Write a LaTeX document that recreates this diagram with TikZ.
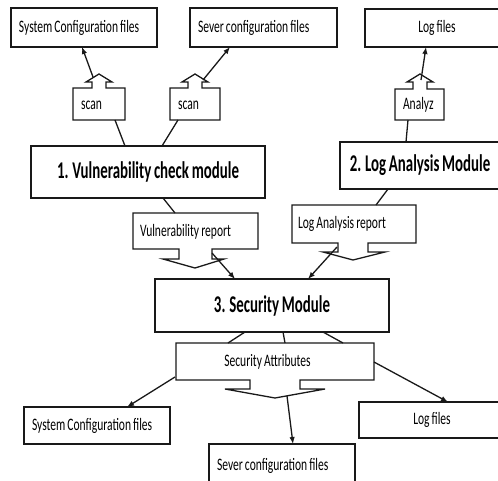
\documentclass[tikz,border=0pt]{standalone}
\usepackage{fontspec}
\setmainfont{Carlito}[FakeStretch=0.66, WordSpace=0.8]
\newfontfamily\bigfont{Carlito}[FakeStretch=0.62, WordSpace=0.8]
\usetikzlibrary{arrows.meta}
\begin{document}
\begin{tikzpicture}[x=1pt,y=-1pt,
  line width=1.3pt, draw={black!90},
  every node/.style={inner sep=0pt, outer sep=0pt},
  txt/.style={font=\fontsize{17.5}{20}\selectfont},
  filebox/.style={draw, rectangle, txt, align=flush left, inner xsep=8pt, anchor=north west},
  modbox/.style={draw, rectangle, font=\bigfont\bfseries\fontsize{24}{28}\selectfont},
  callout/.style={draw, line join=miter},
  conn/.style={-{Latex[length=7pt,width=5.5pt]}}]
\useasboundingbox (0,0) rectangle (498,480);
\clip (0,0) rectangle (498,480);

% top file boxes
\node[filebox, text width=130pt, minimum height=39pt] (tsc) at (11,8) {System Configuration files};
\node[filebox, text width=131pt, minimum height=39pt] (tsv) at (190,8) {Sever configuration files};
\node[filebox, text width=128pt, minimum height=38pt, align=flush center] (tlog) at (365,9) {Log files};

% modules
\node[modbox, minimum width=234pt, minimum height=52pt] (m1) at (148,172) {1. Vulnerability check module};
\node[modbox, minimum width=160pt, minimum height=47pt] (m2) at (420,165.5) {2. Log Analysis Module};
\node[modbox, minimum width=234pt, minimum height=53pt] (m3) at (272,305.5) {3. Security Module};

% bottom file boxes
\node[filebox, text width=130pt, minimum height=37pt] (bsc) at (24,407) {System Configuration files};
\node[filebox, text width=130pt, minimum height=36pt, align=flush center] (blog) at (359,402) {Log files};
\node[filebox, text width=130pt, minimum height=43pt] (bsv) at (209,444) {Sever configuration files};

% up-arrow callouts
\draw[callout] (73,88) -- (92,88) -- (92,82) -- (86,82) -- (99,74) -- (112,82) -- (106,82) -- (106,88) -- (125,88) -- (125,120) -- (73,120) -- cycle;
\node[txt, anchor=west] (scan1) at (81,105) {scan};
\draw[callout] (170,88) -- (188,88) -- (188,82) -- (182,82) -- (195,74) -- (208,82) -- (202,82) -- (202,88) -- (220,88) -- (220,120) -- (170,120) -- cycle;
\node[txt, anchor=west] (scan2) at (178,105) {scan};
\draw[callout] (395,89) -- (413,89) -- (413,82) -- (407,82) -- (420,74) -- (433,82) -- (427,82) -- (427,89) -- (444,89) -- (444,120) -- (395,120) -- cycle;
\node[txt, anchor=west] (analyz) at (403,105) {Analyz};

% down-arrow callouts
\draw[callout] (133,213) -- (258,213) -- (258,249) -- (212,249) -- (212,259) -- (224,259) -- (195,268) -- (163,259) -- (179,259) -- (179,249) -- (133,249) -- cycle;
\node[txt, anchor=west] (vr) at (140,232) {Vulnerability report};
\draw[callout] (292,205) -- (416,205) -- (416,243) -- (368,243) -- (368,252) -- (385,252) -- (353,260) -- (323,252) -- (338,252) -- (338,243) -- (292,243) -- cycle;
\node[txt, anchor=west] (lar) at (298,224) {Log Analysis report};
\draw[callout] (176,343) -- (374,343) -- (374,380) -- (300,380) -- (300,389) -- (325,389) -- (275,398) -- (225,389) -- (250,389) -- (250,380) -- (176,380) -- cycle;
\node[txt] (sa) at (267.5,362) {Security Attributes};

% connector coordinates on callouts
\coordinate (s1t) at (93,77);
\coordinate (s1b) at (115,120);
\coordinate (s2t) at (203,80);
\coordinate (s2b) at (178,120);
\coordinate (ant) at (421,80);
\coordinate (anb) at (408,120);
\coordinate (vrt) at (175,213);
\coordinate (vra) at (212,253);
\coordinate (lart) at (376,205);
\coordinate (lara) at (337,247);
\coordinate (sat1) at (228,343);
\coordinate (sat2) at (285,343);
\coordinate (sat3) at (343,343);
\coordinate (sal) at (175,377);
\coordinate (sar) at (374,362);
\coordinate (sad) at (287,396);

% arrows to top files
\draw[conn] (s1t) -- ([xshift=71pt]tsc.south west);
\draw[conn] (s2t) -- ([xshift=40pt]tsv.south west);
\draw[conn] (ant) -- ([xshift=61pt]tlog.south west);

% plain links
\draw (s1b) -- ([xshift=94pt]m1.north west);
\draw (s2b) -- ([xshift=131pt]m1.north west);
\draw (anb) -- ([xshift=66pt]m2.north west);
\draw ([xshift=132pt]m1.south west) -- (vrt);
\draw ([xshift=48pt]m2.south west) -- (lart);
\draw ([xshift=90pt]m3.south west) -- (sat1);
\draw ([xshift=128pt]m3.south west) -- (sat2);
\draw ([xshift=168pt]m3.south west) -- (sat3);

% arrows to security module
\draw[conn] (vra) -- ([xshift=80pt]m3.north west);
\draw[conn] (lara) -- ([xshift=153pt]m3.north west);

% arrows to bottom files
\draw[conn] (sal) -- ([xshift=103pt]bsc.north west);
\draw[conn] (sar) -- ([xshift=89pt]blog.north west);
\draw[conn] (sad) -- ([xshift=84pt]bsv.north west);
\end{tikzpicture}
\end{document}
